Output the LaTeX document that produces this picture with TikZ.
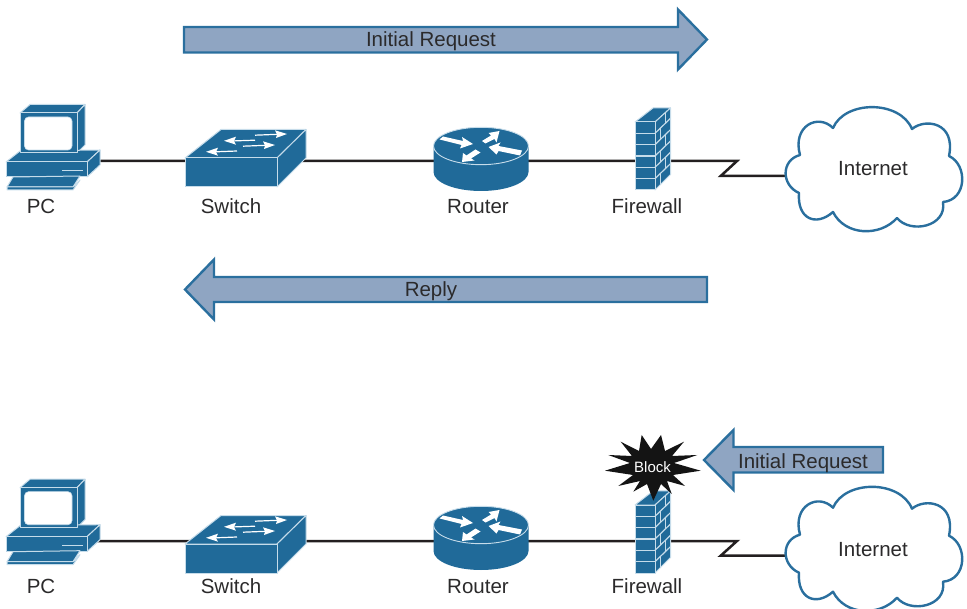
\documentclass[tikz,border=0pt]{standalone}
\usepackage{fontspec}
\setmainfont{Liberation Sans}
\definecolor{devblue}{HTML}{206A99}
\definecolor{devline}{HTML}{C6DCEA}
\definecolor{arrowfill}{HTML}{8FA5C2}
\definecolor{arrowline}{HTML}{2A6F9E}
\definecolor{inktext}{HTML}{2B2A2B}
\definecolor{wire}{HTML}{231F20}
\tikzset{
  dev/.style={fill=devblue,draw=devline,line width=1pt,line join=round},
  devmark/.style={fill=white,draw=none},
  devrule/.style={draw=devline,line width=1.2pt},
  wireline/.style={draw=wire,line width=2.5pt,line join=miter},
  flow/.style={fill=arrowfill,draw=arrowline,line width=2.4pt,line join=miter},
  lbl/.style={text=inktext,font=\fontsize{20.5}{24}\selectfont,inner sep=0pt,anchor=base},
  burst/.style={fill=black!92!white,draw=none},
  burstlbl/.style={text=white,font=\fontsize{15}{18}\selectfont,inner sep=0pt,anchor=base},
  cloudline/.style={fill=white,draw=arrowline,line width=2.4pt,line join=round}
}
\newcommand{\IconPC}{%
  \path[dev] (20,113)--(30,104.5)--(85,104.5)--(77,113)--cycle;
  \path[dev] (77,113)--(85,104.5)--(85,145)--(77,153)--cycle;
  \path[dev] (6,162)--(20,151)--(100,150)--(87,162)--cycle;
  \path[dev] (20,113) rectangle (77,153);
  \path[dev] (87,162)--(100,150)--(100,165)--(87,177)--cycle;
  \path[dev] (6,162) rectangle (87,177);
  \path[fill=white,draw=devline,line width=0.6pt,rounded corners=4pt] (24.5,117) rectangle (72,150);
  \path[devrule] (62,170.5)--(83,170.5);
  \path[dev] (13,177)--(80,176)--(73,187)--(7,187)--cycle;
  \path[dev] (7,187)--(73,187)--(80,180)--(73,190)--(7,190)--cycle;
}
\newcommand{\IconSwitch}{%
  \path[dev] (185,158)--(221,129.5)--(306,129.5)--(277,158)--cycle;
  \path[dev] (277,158)--(306,129.5)--(306,158)--(277,187)--cycle;
  \path[dev] (185,158) rectangle (277,187);
  \foreach \xa/\ya/\xb/\yb in {255/135.2/278/134.3, 255/140.2/234/140.9, 243/146.2/266/145.3, 237/151/216/151.8}{
    \draw[white,line width=1.2pt] (\xa,\ya)--(\xb,\yb);
  }
  \path[devmark] (287,134)--(275,130.3)--(277,134.4)--(276,138)--cycle;
  \path[devmark] (224,140.8)--(236,136.7)--(234,141)--(236,144.7)--cycle;
  \path[devmark] (275,145)--(263,141.3)--(265,145.4)--(264,149)--cycle;
  \path[devmark] (206,151.8)--(218,147.7)--(216,152)--(218,155.7)--cycle;
}
\newcommand{\IconRouter}{%
  \path[fill=devblue] (433.5,146)--(433.5,172) arc[start angle=180,end angle=360,x radius=47.5pt,y radius=19pt]--(528.5,146)--cycle;
  \path[fill=devblue,draw=devline,line width=0.9pt] (481,146) ellipse [x radius=47.5pt,y radius=18.7pt];
  \path[devmark] (439.5,139.5)--(443,136.5)--(463,141)--(462,137)--(473,144)--(460,148.5)--(461.5,145)--cycle;
  \path[devmark] (488.5,147)--(500.5,142.5)--(498.5,146)--(522,150.5)--(520,155.5)--(498.5,151)--(496.5,154.5)--cycle;
  \path[devmark] (499.5,131)--(488.5,133)--(491,135.5)--(482,141)--(485.5,143.5)--(494.5,139)--(496.5,142.5)--cycle;
  \path[devmark] (462,162)--(463,153)--(466.5,155.5)--(475.5,149.5)--(480.5,152.5)--(471,158.5)--(474.5,160.5)--cycle;
}
\newcommand{\IconWall}{%
  \path[dev] (635,122)--(653,108)--(670.5,108)--(655,122)--cycle;
  \path[dev] (655,122)--(670.5,108)--(670.5,174.5)--(655,190)--cycle;
  \path[dev] (635,122) rectangle (655,190);
  \foreach \n in {1,...,5}{
    \pgfmathsetmacro{\yy}{122+\n*11.33}
    \draw[devrule] (635,\yy)--(655,\yy);
    \draw[devrule] (655,\yy)--(670.5,\yy-15);
  }
  \foreach \n/\xx in {0/665.5,1/660.5,2/665.5,3/660.5,4/665.5,5/660.5}{
    \pgfmathsetmacro{\ya}{122+\n*11.33-(\xx-655)*0.95}
    \pgfmathsetmacro{\yb}{\ya+11.33}
    \draw[devrule] (\xx,\ya)--(\xx,\yb);
  }
}
\newcommand{\IconCloud}{%
  \path[cloudline] (833,128)
    .. controls (845,100) and (900,100) .. (912,129)
    .. controls (925,118) and (956,122) .. (949,156)
    .. controls (968,165) and (967,200) .. (943,202)
    .. controls (947,227) and (910,234) .. (897,218)
    .. controls (880,237) and (845,236) .. (833,212)
    .. controls (816,227) and (797,219) .. (799,193)
    .. controls (781,185) and (781,160) .. (800,155)
    .. controls (792,126) and (818,113) .. (833,128) -- cycle;
}
\begin{document}
\begin{tikzpicture}[x=1pt,y=-1pt]
\useasboundingbox (0,0) rectangle (967,609);
% ---- port coordinates, upper row
\coordinate (pcA) at (60,161);
\coordinate (swA) at (230,161);
\coordinate (rtA) at (481,161);
\coordinate (fwA) at (650,161);
\coordinate (zaA) at (737,161);
\coordinate (zbA) at (720.7,176);
\coordinate (clA) at (873,176);
% ---- port coordinates, lower row
\coordinate (pcB) at (60,541);
\coordinate (swB) at (230,541);
\coordinate (rtB) at (481,541);
\coordinate (fwB) at (650,541);
\coordinate (zaB) at (737,541);
\coordinate (zbB) at (720.7,555.7);
\coordinate (clB) at (873,555.7);
% ---- connectors
\draw[wireline] (pcA)--(swA)--(rtA)--(fwA)--(zaA)--(zbA)--(clA);
\draw[wireline] (pcB)--(swB)--(rtB)--(fwB)--(zaB)--(zbB)--(clB);
% ---- upper icons
\IconPC \IconSwitch \IconRouter \IconWall \IconCloud
% ---- lower icons
\begin{scope}[shift={(0,374.7)}]\IconPC\end{scope}
\begin{scope}[shift={(0,386)}]\IconSwitch\end{scope}
\begin{scope}[shift={(0,379)}]\IconRouter\end{scope}
\begin{scope}[shift={(0,383)}]\IconWall\end{scope}
\begin{scope}[shift={(0,379.7)}]\IconCloud\end{scope}
% ---- flow arrows
\path[flow] (184,27)--(678,27)--(678,9.5)--(707,39.5)--(678,69.5)--(678,52.5)--(184,52.5)--cycle;
\path[flow] (707,277)--(214,277)--(214,259.5)--(185,289.5)--(214,319.5)--(214,302)--(707,302)--cycle;
\path[flow] (883,447)--(733.5,447)--(733.5,430)--(704,460)--(733.5,490)--(733.5,472.5)--(883,472.5)--cycle;
% ---- burst
\path[burst] (641.7,435)--(651,449)--(661,435)--(665,451)--(684,441.7)--(672,456)--(697.3,455)--(674,463)--(700.7,470.7)--(673,475)--(685,486)--(667,481)--(671.7,494)--(661,484)--(653.3,500.7)--(647,484)--(633.3,491.7)--(640,481)--(618.3,486)--(633,475)--(605,470.7)--(630,463)--(608.3,455)--(632,456)--(620.7,441.7)--(639,451)--cycle;
% ---- labels
\node[lbl] (tInit) at (431,47) {Initial Request};
\node[lbl] (tReply) at (431,297) {Reply};
\node[lbl] (tInit2) at (803,468) {Initial Request};
\node[burstlbl] (tBlock) at (652.5,472.5) {Block};
\node[lbl] (lPCa) at (41,214) {PC};
\node[lbl] (lSWa) at (231,214) {Switch};
\node[lbl] (lRTa) at (478,214) {Router};
\node[lbl] (lFWa) at (647,214) {Firewall};
\node[lbl] (lINa) at (873,176) {Internet};
\node[lbl] (lPCb) at (41,593) {PC};
\node[lbl] (lSWb) at (231,593) {Switch};
\node[lbl] (lRTb) at (478,593) {Router};
\node[lbl] (lFWb) at (647,593) {Firewall};
\node[lbl] (lINb) at (873,556) {Internet};
\end{tikzpicture}
\end{document}
